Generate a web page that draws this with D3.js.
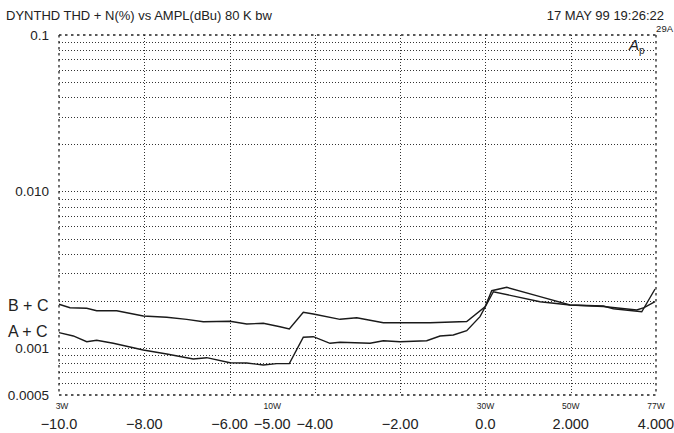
<!DOCTYPE html>
<html><head><meta charset="utf-8">
<script src="https://cdn.jsdelivr.net/npm/d3@7"></script>
<style>body{margin:0;background:#fff}svg{display:block}text{font-family:"Liberation Sans",Arial,sans-serif;fill:#222}</style>
</head><body><svg id="c" width="674" height="433"></svg>
<script>
const xTicks=[-10,-8,-6,-5,-4,-2,0,2,4];
const xTickLabels=["\u221210.0","\u22128.00","\u22126.00","\u22125.00","\u22124.00","\u22122.00","0.0","2.000","4.000"];
const xGrid=[-8,-6,-4,-2,0,2];
const yTicks=[0.1,0.01,0.001,0.0005];
const yTickLabels=["0.1","0.010","0.001","0.0005"];
const powerVals=[-10,-5,0,2,4];
const powerLabels=["3W","10W","30W","50W","77W"];
const bcX=[-10.0,-9.742,-9.35,-9.116,-8.647,-8.023,-7.474,-7.005,-6.616,-5.99,-5.598,-5.209,-4.817,-4.599,-4.271,-4.036,-3.41,-3.018,-2.394,-1.299,-0.439,-0.009,0.148,0.5,1.281,1.984,2.765,3.0,3.666,3.978];
const bcY=[0.00190,0.001807,0.001791,0.001729,0.001729,0.001599,0.001569,0.001523,0.001471,0.00148,0.001422,0.001437,0.001366,0.001321,0.001689,0.001647,0.001523,0.00156,0.001449,0.001449,0.001475,0.001834,0.00232,0.002439,0.002125,0.00188,0.001853,0.00178,0.001703,0.002379];
const acX=[-10.0,-9.665,-9.35,-9.116,-8.727,-8.023,-7.474,-6.85,-6.536,-5.99,-5.598,-5.209,-4.894,-4.599,-4.271,-4.036,-3.645,-3.41,-2.706,-2.394,-2.003,-1.377,-1.065,-0.753,-0.439,-0.127,0.186,1.281,1.984,2.765,3.548,3.72,3.978];
const acY=[0.001251,0.001192,0.001095,0.001118,0.00107,0.00097,0.000915,0.000849,0.000866,0.000804,0.000801,0.000777,0.000793,0.000793,0.001169,0.001179,0.00107,0.001086,0.00107,0.001112,0.001095,0.001112,0.001192,0.001209,0.001288,0.001583,0.002286,0.001974,0.00188,0.001839,0.001747,0.001807,0.001974];

const svg=d3.select("#c");
const L=59,R=656,T=35,B=395;
const x=d3.scaleLinear().domain([-10,4]).range([L,R]);
const y=d3.scaleLog().domain([0.0005,0.1]).range([B,T]);

const minor=[];
[0.001,0.01].forEach(d=>{for(let k=2;k<=9;k++)minor.push(k*d);});
[6,7,8,9].forEach(k=>minor.push(k*0.0001));
const g=svg.append("g");
g.selectAll("line.h").data(minor.concat([0.01,0.001])).join("line")
 .attr("x1",L).attr("x2",R).attr("y1",d=>Math.round(y(d))+0.5).attr("y2",d=>Math.round(y(d))+0.5)
 .attr("stroke","#333").attr("stroke-width",1).attr("stroke-dasharray","1,2");
g.selectAll("line.v").data(xGrid).join("line")
 .attr("y1",T).attr("y2",B).attr("x1",d=>Math.round(x(d))+0.5).attr("x2",d=>Math.round(x(d))+0.5)
 .attr("stroke","#333").attr("stroke-width",1).attr("stroke-dasharray","1,2");
const fr=svg.append("g").attr("stroke","#222").attr("stroke-width",1.3).attr("stroke-dasharray","2.5,3.5").attr("fill","none");
fr.append("line").attr("x1",L).attr("x2",R).attr("y1",y(0.1)).attr("y2",y(0.1));
fr.append("line").attr("x1",L).attr("x2",R).attr("y1",y(0.0005)).attr("y2",y(0.0005));
fr.append("line").attr("x1",x(-10)).attr("x2",x(-10)).attr("y1",T).attr("y2",B);
fr.append("line").attr("x1",x(4)).attr("x2",x(4)).attr("y1",T).attr("y2",B);

svg.selectAll("text.yl").data(yTicks).join("text")
 .attr("x",49).attr("y",d=>y(d)).attr("dy","0.36em").attr("text-anchor","end")
 .attr("font-size",13.5).text((d,i)=>yTickLabels[i]);
svg.selectAll("text.xl").data(xTicks).join("text")
 .attr("x",d=>x(d)).attr("y",424).attr("dy","0.36em").attr("text-anchor","middle")
 .attr("font-size",14.5).text((d,i)=>xTickLabels[i]);
svg.selectAll("text.pl").data(powerVals).join("text")
 .attr("x",d=>x(d)+(d===-10?3:0)).attr("y",406).attr("dy","0.36em").attr("text-anchor","middle")
 .attr("font-size",8.5).text((d,i)=>powerLabels[i]);

const line=d3.line().x(d=>x(d[0])).y(d=>y(d[1]));
svg.append("path").datum(bcX.map((v,i)=>[v,bcY[i]])).attr("d",line).attr("fill","none").attr("stroke","#1a1a1a").attr("stroke-width",1.4);
svg.append("path").datum(acX.map((v,i)=>[v,acY[i]])).attr("d",line).attr("fill","none").attr("stroke","#1a1a1a").attr("stroke-width",1.4);

svg.append("text").attr("x",8).attr("y",305).attr("dy","0.36em").attr("font-size",16).text("B + C");
svg.append("text").attr("x",8).attr("y",331.5).attr("dy","0.36em").attr("font-size",16).text("A + C");

svg.append("text").attr("x",6).attr("y",15).attr("dy","0.36em").attr("font-size",13).text("DYNTHD THD + N(%) vs AMPL(dBu) 80 K bw");
svg.append("text").attr("x",664).attr("y",15).attr("dy","0.36em").attr("text-anchor","end").attr("font-size",13).text("17 MAY 99 19:26:22");
svg.append("text").attr("x",673).attr("y",29).attr("dy","0.36em").attr("text-anchor","end").attr("font-size",9.5).text("29A");
const ap=svg.append("text").attr("x",629).attr("y",45).attr("dy","0.36em").attr("font-size",15);
ap.append("tspan").attr("font-style","italic").text("A");
ap.append("tspan").attr("font-size",10).attr("dy",4).text("p");
</script></body></html>
